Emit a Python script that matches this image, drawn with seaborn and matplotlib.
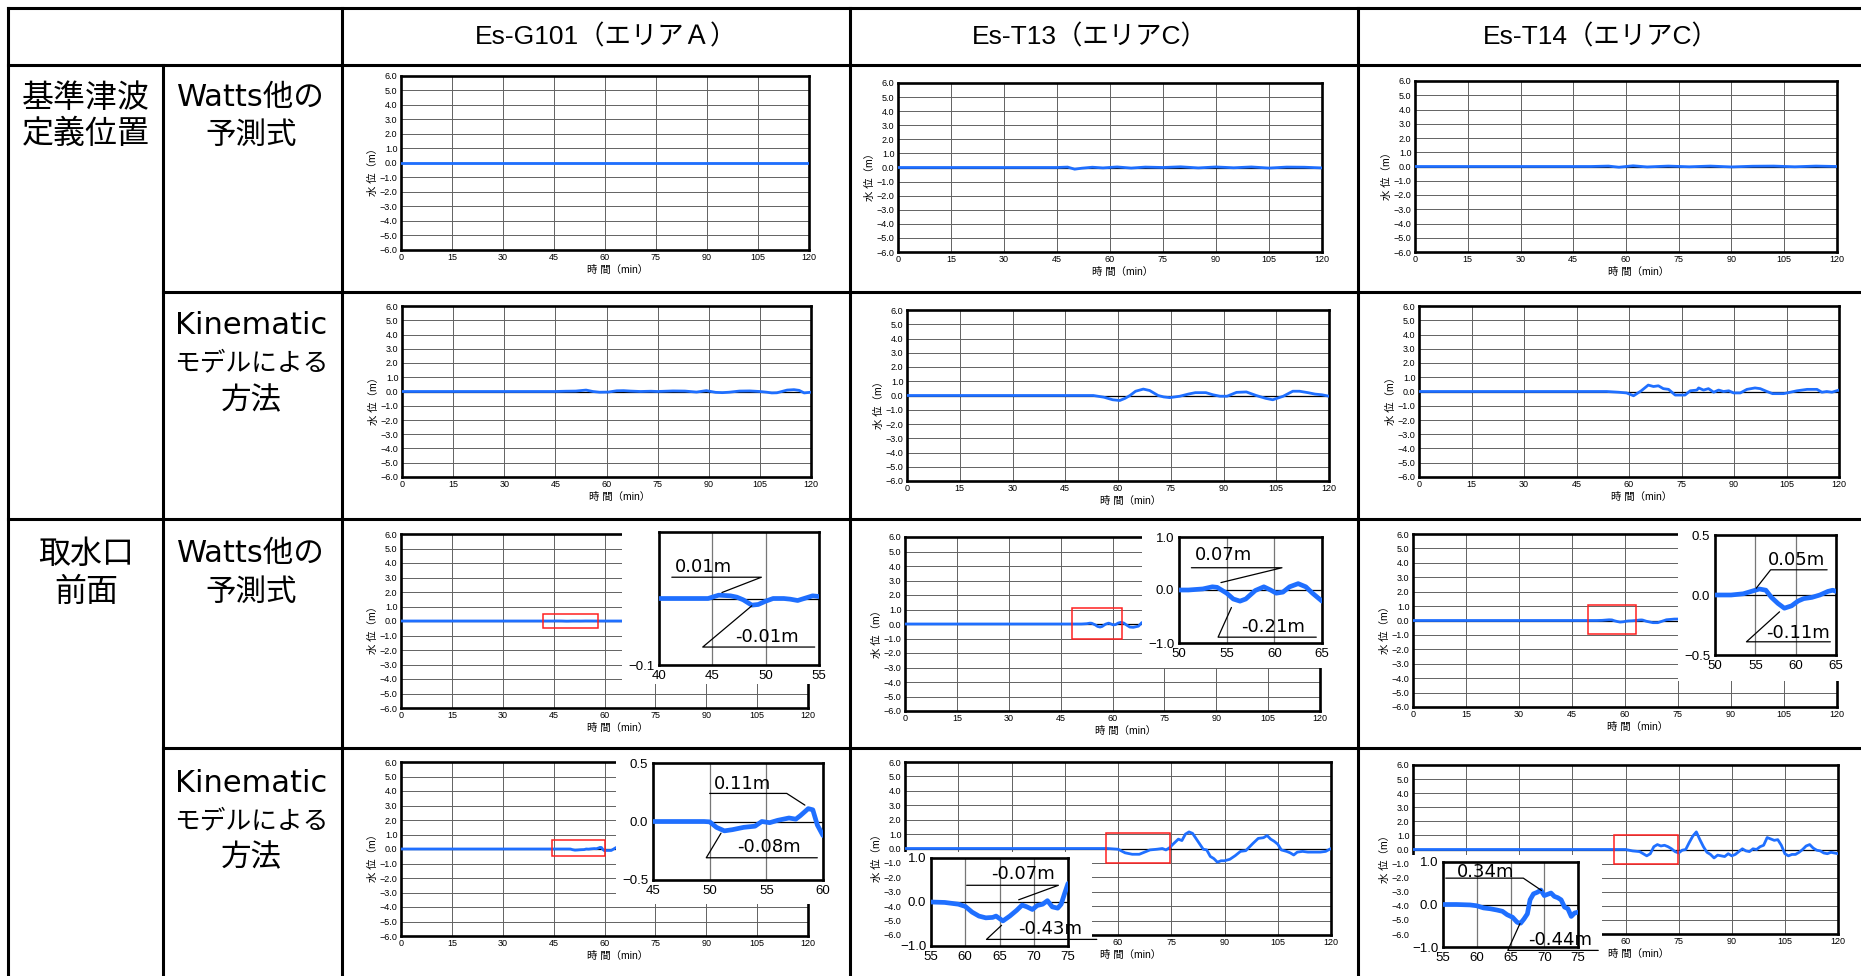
import matplotlib
matplotlib.use("Agg")
import matplotlib.pyplot as plt
import seaborn as sns
import numpy as np
from matplotlib.patches import Rectangle
from matplotlib.lines import Line2D

# ---------------- texts ----------------
col_titles = ["Es-G101（エリアＡ）", "Es-T13（エリアC）", "Es-T14（エリアC）"]
group_labels = [["基準津波", "定義位置"], ["取水口", "前面"]]
watts_label = ["Watts他の", "予測式"]
kin_label = ["Kinematic", "モデルによる", "方法"]
x_label = "時 間（min）"
y_label = "水 位（m）"
main_xticks = [0, 15, 30, 45, 60, 75, 90, 105, 120]
main_yticks = [-6, -5, -4, -3, -2, -1, 0, 1, 2, 3, 4, 5, 6]

# ---------------- series (time [min], water level [m]) ----------------
# tsunami definition position, Watts
g101_def_watts_t = [0, 120]
g101_def_watts_v = [0.0, 0.0]
t13_def_watts_t = [0, 45, 48, 50, 52, 55, 58, 62, 66, 70, 75, 80, 85, 90, 95, 100, 105, 110, 115, 120]
t13_def_watts_v = [0.0, 0.0, 0.03, -0.12, -0.05, 0.02, -0.03, 0.04, -0.04, 0.03, 0.0, 0.05, -0.03, 0.04, -0.02, 0.04, -0.04, 0.03, 0.02, -0.03]
t14_def_watts_t = [0, 50, 55, 58, 62, 66, 72, 78, 84, 90, 96, 102, 108, 114, 120]
t14_def_watts_v = [0.0, 0.0, 0.03, -0.05, 0.05, -0.03, 0.03, -0.02, 0.03, -0.03, 0.02, 0.03, -0.02, 0.03, 0.0]

# tsunami definition position, Kinematic
g101_def_kin_t = [0, 45, 48, 51, 54, 56, 58, 60.5, 63, 65, 67, 70, 73, 75, 79.5, 83, 86.4, 89.3, 92, 94, 96, 99, 102, 105, 107, 108.5, 110, 113, 115, 116.5, 118, 120]
g101_def_kin_v = [0, 0, 0.02, 0.03, 0.1, 0.0, -0.05, -0.04, 0.05, 0.06, 0.03, 0.0, 0.02, 0.0, 0.04, 0.03, -0.04, 0.06, -0.06, -0.08, -0.05, 0.03, 0.04, 0.0, -0.05, -0.1, -0.09, 0.1, 0.13, 0.08, -0.1, -0.05]
t13_def_kin_t = [0, 50, 53, 56, 58.5, 60.5, 62, 63.4, 65, 67.2, 69, 71.4, 73, 74.7, 77.6, 80, 82, 85, 87, 89, 91, 93.7, 96.5, 99.3, 102, 104, 107, 109.7, 111.6, 114, 116, 118, 120]
t13_def_kin_v = [0, 0, 0, -0.12, -0.3, -0.35, -0.2, 0.0, 0.3, 0.45, 0.35, 0.0, -0.1, -0.15, -0.05, 0.1, 0.2, 0.2, 0.05, -0.05, -0.05, 0.22, 0.25, 0.0, -0.2, -0.3, -0.05, 0.3, 0.3, 0.2, 0.1, 0.05, -0.05]
t14_def_kin_t = [0, 53.6, 57, 59.3, 61.3, 63.5, 65.5, 67, 68.4, 69.8, 71.3, 73.2, 74.6, 76, 77.5, 79.4, 79.9, 81.3, 82.7, 84.2, 85.6, 87, 88.5, 89.9, 91.8, 93.7, 96, 97.5, 99.4, 101, 104.2, 106.1, 108, 110.9, 113.7, 115.1, 116.5, 118, 120]
t14_def_kin_v = [0, 0, -0.05, -0.1, -0.3, 0.05, 0.45, 0.35, 0.4, 0.2, 0.15, -0.25, -0.25, -0.25, 0.05, 0.1, 0.25, 0.1, 0.2, -0.05, 0.1, 0.0, 0.05, -0.1, -0.1, 0.15, 0.25, 0.2, 0.0, -0.15, -0.15, -0.05, 0.05, 0.15, 0.15, -0.05, 0.0, -0.05, 0.1]

# intake front, Watts
g101_int_watts_t = [0, 44.6, 45.6, 46.7, 47.3, 47.9, 48.7, 49.3, 50.0, 50.7, 51.7, 52.3, 53.0, 53.6, 54.4, 55, 60, 120]
g101_int_watts_v = [0, 0, 0.005, 0.004, 0.002, -0.002, -0.01, -0.009, -0.004, 0.0, 0.0, -0.001, -0.003, 0.0, 0.004, 0.003, 0.0, 0.0]
t13_int_watts_t = [0, 51, 52.5, 53.5, 54, 55, 55.7, 56.4, 57, 58, 58.9, 59.6, 60.2, 60.9, 61.6, 62.5, 63.3, 64, 65, 66, 67.5, 68.5, 70, 120]
t13_int_watts_v = [0, 0, 0.02, 0.06, 0.05, -0.06, -0.17, -0.21, -0.17, -0.01, 0.06, 0.0, -0.06, -0.04, 0.06, 0.12, 0.06, -0.06, -0.21, -0.23, -0.15, 0.1, 0.1, 0.0]
t14_int_watts_t = [0, 52, 53.5, 54.5, 55.5, 56.3, 57, 57.8, 58.6, 59.5, 60.3, 61, 62, 63, 64, 64.6, 65, 66, 67.9, 69.3, 71.7, 74, 76, 120]
t14_int_watts_v = [0, 0, 0.01, 0.03, 0.05, 0.04, -0.02, -0.07, -0.11, -0.09, -0.05, -0.03, -0.02, 0.0, 0.03, 0.04, 0.03, -0.05, -0.15, -0.15, 0.05, 0.1, 0.1, 0.0]

# intake front, Kinematic
g101_int_kin_t = [0, 49.5, 50, 50.6, 51.3, 52, 53, 54, 54.6, 55.3, 56, 57, 57.6, 58, 58.7, 59.1, 59.5, 60, 60.6, 62, 63.4, 65, 120]
g101_int_kin_v = [0, 0, -0.003, -0.05, -0.08, -0.07, -0.05, -0.04, 0.0, -0.01, 0.01, 0.03, 0.02, 0.05, 0.11, 0.1, -0.03, -0.12, -0.1, -0.1, 0.1, 0.1, 0.0]
t13_int_kin_t = [0, 57, 60, 62, 64, 66, 67.5, 69, 71, 72.5, 73.5, 74.5, 75.5, 77, 78, 79, 80, 81, 82.5, 84, 85, 86, 87, 88, 89, 90, 91.5, 93, 94.5, 96, 97, 98, 99.5, 101, 102, 103, 104, 105, 106, 107.5, 108.5, 109.5, 110.5, 112, 113.5, 115, 117, 118.5, 120]
t13_int_kin_v = [0, 0, -0.05, -0.3, -0.4, -0.4, -0.25, -0.1, -0.05, 0.0, -0.1, 0.05, 0.3, 0.65, 0.55, 1.0, 1.15, 1.05, 0.5, -0.05, -0.1, -0.55, -0.7, -0.95, -0.85, -0.85, -0.75, -0.5, -0.2, -0.15, 0.1, 0.35, 0.7, 0.75, 0.9, 0.65, 0.5, 0.3, -0.1, -0.2, -0.3, -0.45, -0.25, -0.2, -0.25, -0.25, -0.25, -0.2, 0.0]
t14_int_kin_t = [0, 60, 62, 64, 66, 67, 68, 69, 70, 71, 72, 73, 74, 75, 76, 77, 78, 79, 80, 81, 82, 83, 84, 85, 86, 87, 88, 89, 90, 91, 92, 93, 94, 95, 96, 97, 98, 99, 100, 101, 102, 103, 104, 105, 106, 107, 108, 109, 110, 111, 112, 113, 114, 115, 116, 117, 118, 119, 120]
t14_int_kin_v = [0, 0, -0.1, -0.15, -0.45, -0.3, 0.2, 0.35, 0.25, 0.3, 0.2, 0.05, -0.15, -0.25, -0.05, 0.0, 0.5, 0.95, 1.25, 0.7, 0.2, -0.2, -0.35, -0.6, -0.4, -0.45, -0.5, -0.3, -0.45, -0.35, -0.15, 0.05, -0.1, -0.15, 0.05, 0.0, 0.2, 0.3, 0.85, 0.75, 0.65, 0.7, 0.3, -0.3, -0.45, -0.35, -0.35, -0.2, 0.0, 0.25, 0.35, 0.1, -0.05, -0.1, -0.25, -0.3, -0.2, -0.25, -0.3]

# enlarged views (insets)
g101_zoom_watts_t = [40, 44.6, 45.6, 46.7, 47.3, 47.9, 48.7, 49.3, 50.0, 50.7, 51.7, 52.3, 53.0, 53.6, 54.4, 55]
g101_zoom_watts_v = [0, 0, 0.005, 0.004, 0.002, -0.002, -0.01, -0.009, -0.004, 0.0, 0.0, -0.001, -0.003, 0.0, 0.004, 0.003]
t13_zoom_watts_t = [50, 51, 52.5, 53.5, 54, 55, 55.7, 56.4, 57, 58, 58.9, 59.6, 60.2, 60.9, 61.6, 62.5, 63.3, 64, 65]
t13_zoom_watts_v = [0, 0, 0.02, 0.06, 0.05, -0.06, -0.17, -0.21, -0.17, -0.01, 0.06, 0.0, -0.06, -0.04, 0.06, 0.12, 0.06, -0.06, -0.21]
t14_zoom_watts_t = [50, 52, 53.5, 54.5, 55.5, 56.3, 57, 57.8, 58.6, 59.5, 60.3, 61, 62, 63, 64, 64.6, 65]
t14_zoom_watts_v = [0, 0, 0.01, 0.03, 0.05, 0.04, -0.02, -0.07, -0.11, -0.09, -0.05, -0.03, -0.02, 0.0, 0.03, 0.04, 0.03]
g101_zoom_kin_t = [45, 49.5, 50, 50.6, 51.3, 52, 53, 54, 54.6, 55.3, 56, 57, 57.6, 58, 58.7, 59.1, 59.5, 60]
g101_zoom_kin_v = [0, 0, -0.003, -0.05, -0.08, -0.07, -0.05, -0.04, 0.0, -0.01, 0.01, 0.03, 0.02, 0.05, 0.11, 0.1, -0.03, -0.12]
t13_zoom_kin_t = [55, 57, 59, 60, 61, 62, 63, 64, 64.5, 65.5, 66.5, 67.5, 68.3, 69, 69.8, 70.5, 71.3, 72, 72.7, 73.5, 74, 74.5, 75]
t13_zoom_kin_v = [0, -0.01, -0.05, -0.1, -0.23, -0.32, -0.36, -0.35, -0.32, -0.43, -0.32, -0.19, -0.07, -0.11, -0.17, -0.08, -0.05, 0.03, -0.11, -0.14, -0.05, 0.19, 0.42]
t14_zoom_kin_t = [55, 57, 59, 60, 61, 62, 63, 63.8, 64.5, 65.3, 66, 66.5, 67, 67.5, 67.9, 68.4, 69, 69.5, 70, 70.5, 71, 71.5, 72, 72.5, 73, 73.5, 74, 74.5, 75]
t14_zoom_kin_v = [0, 0, -0.01, -0.03, -0.08, -0.1, -0.13, -0.16, -0.24, -0.3, -0.42, -0.44, -0.34, -0.22, 0.11, 0.25, 0.29, 0.34, 0.21, 0.24, 0.27, 0.19, 0.16, 0.11, -0.06, -0.1, -0.28, -0.2, -0.18]

# zoom windows marked in red on the main charts: (t0, t1, v0, v1)
g101_watts_window = (42, 58, -0.5, 0.45)
t13_watts_window = (48.3, 62.7, -1.0, 1.1)
t14_watts_window = (49.5, 63.0, -0.95, 1.1)
g101_kin_window = (44.5, 60, -0.5, 0.6)
t13_kin_window = (56.6, 74.6, -1.0, 1.1)
t14_kin_window = (56.8, 74.8, -1.0, 1.0)

# peak labels
g101_watts_peaks = ["0.01m", "-0.01m"]
t13_watts_peaks = ["0.07m", "-0.21m"]
t14_watts_peaks = ["0.05m", "-0.11m"]
g101_kin_peaks = ["0.11m", "-0.08m"]
t13_kin_peaks = ["-0.07m", "-0.43m"]
t14_kin_peaks = ["0.34m", "-0.44m"]

# ---------------- figure ----------------
W, H = 1861, 976
sns.set_theme(style="white")
plt.rcParams["font.family"] = ["Noto Sans CJK JP", "DejaVu Sans"]
plt.rcParams["axes.unicode_minus"] = True
fig = plt.figure(figsize=(W / 100, H / 100), dpi=100)
fig.patch.set_facecolor("white")

BLUE = "#1f6fff"
TICKFONT = ["Liberation Sans", "Noto Sans CJK JP"]
LABELFONT = ["DejaVu Sans", "Noto Sans CJK JP"]


def fig_rect(x0, y0, x1, y1):
    return [x0 / W, 1 - y1 / H, (x1 - x0) / W, (y1 - y0) / H]


def hline(y, x0, x1, lw=2.2):
    fig.add_artist(Line2D([x0 / W, x1 / W], [1 - y / H, 1 - y / H], transform=fig.transFigure,
                          color="black", lw=lw, zorder=6, solid_capstyle="projecting"))


def vline(x, y0, y1, lw=2.2):
    fig.add_artist(Line2D([x / W, x / W], [1 - y0 / H, 1 - y1 / H], transform=fig.transFigure,
                          color="black", lw=lw, zorder=6, solid_capstyle="projecting"))


# table grid
hline(8, 8, 1870)
hline(65, 8, 1870)
hline(292, 163, 1870)
hline(519, 8, 1870)
hline(748, 163, 1870)
vline(8, 8, 980)
vline(163, 65, 980)
for xv in (342, 850, 1358):
    vline(xv, 8, 980)

# header texts
for cx, title in zip((606, 1090, 1601), col_titles):
    fig.text(cx / W, 1 - 37 / H, title, ha="center", va="center", fontsize=19,
             family=TICKFONT, color="black")


def multiline(cx, ys, lines, sizes):
    for y, s, sz in zip(ys, lines, sizes):
        fig.text(cx / W, 1 - y / H, s, ha="center", va="center", fontsize=sz,
                 family=LABELFONT, color="black")


multiline(86, (98, 135), group_labels[0], (23, 23))
multiline(86, (554, 592), group_labels[1], (23, 23))
multiline(251, (97, 135), watts_label, (22, 22))
multiline(251, (325, 363, 401), kin_label, (22, 18.5, 22))
multiline(251, (554, 592), watts_label, (22, 22))
multiline(251, (783, 821, 858), kin_label, (22, 18.5, 22))


def fmt(vals):
    return [f"{v:.1f}".replace("-", "\u2212") for v in vals]


def draw_main(box, t, v, window=None):
    ax = fig.add_axes(fig_rect(*box))
    ax.set_zorder(1)
    ax.set_facecolor("white")
    ax.axhline(0, color="black", lw=0.9, zorder=1.5)
    sns.lineplot(x=t, y=v, ax=ax, color=BLUE, lw=2.0, zorder=3, sort=False)
    ax.set_xlim(0, 120)
    ax.set_ylim(-6, 6)
    ax.set_xticks(main_xticks)
    ax.set_yticks(main_yticks)
    ax.set_yticklabels(fmt(main_yticks))
    ax.grid(True, color="#626262", lw=0.7)
    ax.set_axisbelow(True)
    for sp in ax.spines.values():
        sp.set_visible(True)
        sp.set_color("black")
        sp.set_linewidth(1.9)
    ax.tick_params(axis="both", length=0, labelsize=6.5, pad=2.5, colors="black")
    for lab in ax.get_xticklabels() + ax.get_yticklabels():
        lab.set_fontfamily(TICKFONT)
    w_px = box[2] - box[0]
    h_px = box[3] - box[1]
    ax.set_xlabel(x_label, fontsize=7.5, labelpad=1.5, family=TICKFONT, color="black")
    ax.set_ylabel(y_label, fontsize=7.5, labelpad=1.5, family=TICKFONT, color="black")
    ax.xaxis.label.set_x(0.5 + 13 / w_px)
    ax.yaxis.label.set_y(0.5 - 7 / h_px)
    if window is not None:
        t0, t1, v0, v1 = window
        ax.add_patch(Rectangle((t0, v0), t1 - t0, v1 - v0, fill=False, ec="#ff2020", lw=1.1, zorder=4))
    ax._box_px = box
    return ax


def draw_inset(main_ax, box, bg, t, v, xlim, xticks, ylim, yticks, notes):
    fig.add_artist(Rectangle((bg[0] / W, 1 - bg[3] / H), (bg[2] - bg[0]) / W, (bg[3] - bg[1]) / H,
                             transform=fig.transFigure, fc="white", ec="none", zorder=2))
    # main-chart tick labels that lie under the inset are not shown
    mb = main_ax._box_px
    lab_y = mb[3] + 9
    if bg[1] <= lab_y <= bg[3]:
        for tick_val, lab in zip(main_xticks, main_ax.get_xticklabels()):
            x_px = mb[0] + (mb[2] - mb[0]) * tick_val / 120
            if bg[0] - 4 <= x_px <= bg[2] - 6:
                lab.set_visible(False)
    ax = fig.add_axes(fig_rect(*box))
    ax.set_zorder(3)
    ax.set_facecolor("white")
    ax.axhline(0, color="black", lw=0.9, zorder=1.5)
    sns.lineplot(x=t, y=v, ax=ax, color=BLUE, lw=3.4, zorder=3, sort=False)
    ax.set_xlim(*xlim)
    ax.set_ylim(*ylim)
    ax.set_xticks(xticks)
    ax.set_xticklabels([str(x) for x in xticks])
    ax.set_yticks(yticks)
    ax.set_yticklabels(fmt(yticks))
    ax.grid(True, axis="x", color="#777777", lw=0.9)
    ax.grid(False, axis="y")
    ax.set_axisbelow(True)
    for sp in ax.spines.values():
        sp.set_visible(True)
        sp.set_color("black")
        sp.set_linewidth(1.9)
    ax.tick_params(axis="both", length=0, labelsize=9.5, pad=3.5, colors="black")
    for lab in ax.get_xticklabels() + ax.get_yticklabels():
        lab.set_fontfamily(["Liberation Sans"])
    for text, (tx, ty), xs, ys in notes:
        ax.text(tx, ty, text, ha="center", va="center", fontsize=13, family=["DejaVu Sans"],
                color="black", clip_on=False, zorder=5)
        ax.plot(xs, ys, color="black", lw=0.9, clip_on=False, zorder=4)
    return ax


# ---- row 1 / row 2 : definition position ----
draw_main((401, 76, 809, 250), g101_def_watts_t, g101_def_watts_v)
draw_main((898, 83, 1322, 252), t13_def_watts_t, t13_def_watts_v)
draw_main((1415, 81, 1837, 252), t14_def_watts_t, t14_def_watts_v)
draw_main((402, 306, 811, 477), g101_def_kin_t, g101_def_kin_v)
draw_main((907, 310, 1329, 481), t13_def_kin_t, t13_def_kin_v)
draw_main((1419, 306, 1839, 477), t14_def_kin_t, t14_def_kin_v)

# ---- row 3 : intake, Watts ----
m = draw_main((401, 534, 808, 708), g101_int_watts_t, g101_int_watts_v, g101_watts_window)
draw_inset(m, (659, 532, 819, 665), (622, 522, 838, 684), g101_zoom_watts_t, g101_zoom_watts_v,
           (40, 55), [40, 45, 50, 55], (-0.1, 0.1), [-0.1],
           [(g101_watts_peaks[0], (44.2, 0.048), [41.2, 49.6, 45.9], [0.032, 0.032, 0.009]),
            (g101_watts_peaks[1], (50.1, -0.058), [54.6, 44.1, 48.7], [-0.073, -0.073, -0.011])])

m = draw_main((905, 537, 1320, 711), t13_int_watts_t, t13_int_watts_v, t13_watts_window)
draw_inset(m, (1179, 537, 1322, 643), (1142, 522, 1338, 668), t13_zoom_watts_t, t13_zoom_watts_v,
           (50, 65), [50, 55, 60, 65], (-1, 1), [-1, 0, 1],
           [(t13_watts_peaks[0], (54.7, 0.66), [51.3, 60.8, 54.4], [0.42, 0.42, 0.14]),
            (t13_watts_peaks[1], (59.9, -0.70), [64.4, 54.1, 55.5], [-0.89, -0.89, -0.33])])

m = draw_main((1413, 534, 1837, 707), t14_int_watts_t, t14_int_watts_v, t14_watts_window)
draw_inset(m, (1715, 535, 1836, 655), (1678, 522, 1852, 681), t14_zoom_watts_t, t14_zoom_watts_v,
           (50, 65), [50, 55, 60, 65], (-0.5, 0.5), [-0.5, 0, 0.5],
           [(t14_watts_peaks[0], (60.1, 0.29), [63.9, 56.9, 55.1], [0.21, 0.21, 0.056]),
            (t14_watts_peaks[1], (60.3, -0.32), [64.3, 53.9, 58.0], [-0.39, -0.39, -0.14])])

# ---- row 4 : intake, Kinematic ----
m = draw_main((401, 762, 808, 936), g101_int_kin_t, g101_int_kin_v, g101_kin_window)
draw_inset(m, (653, 763, 823, 880), (616, 751, 838, 904), g101_zoom_kin_t, g101_zoom_kin_v,
           (45, 60), [45, 50, 55, 60], (-0.5, 0.5), [-0.5, 0, 0.5],
           [(g101_kin_peaks[0], (52.9, 0.32), [50.0, 56.8, 58.4], [0.24, 0.24, 0.14]),
            (g101_kin_peaks[1], (55.2, -0.22), [59.5, 49.7, 51.0], [-0.31, -0.31, -0.10])])

m = draw_main((905, 762, 1331, 935), t13_int_kin_t, t13_int_kin_v, t13_kin_window)
draw_inset(m, (931, 858, 1068, 946), (901, 852, 1092, 976), t13_zoom_kin_t, t13_zoom_kin_v,
           (55, 75), [55, 60, 65, 70, 75], (-1, 1), [-1, 0, 1],
           [(t13_kin_peaks[0], (68.5, 0.64), [60.2, 73.6, 67.8], [0.38, 0.38, 0.05]),
            (t13_kin_peaks[1], (72.4, -0.61), [79.2, 63.1, 65.3], [-0.85, -0.85, -0.53])])

m = draw_main((1413, 765, 1838, 934), t14_int_kin_t, t14_int_kin_v, t14_kin_window)
draw_inset(m, (1443, 862, 1578, 947), (1410, 855, 1602, 976), t14_zoom_kin_t, t14_zoom_kin_v,
           (55, 75), [55, 60, 65, 70, 75], (-1, 1), [-1, 0, 1],
           [(t14_kin_peaks[0], (61.3, 0.76), [55.4, 66.9, 69.6], [0.62, 0.62, 0.33]),
            (t14_kin_peaks[1], (72.3, -0.84), [78.0, 64.6, 66.4], [-1.08, -1.08, -0.45])])

fig.savefig("out.png", dpi=100, facecolor="white")
